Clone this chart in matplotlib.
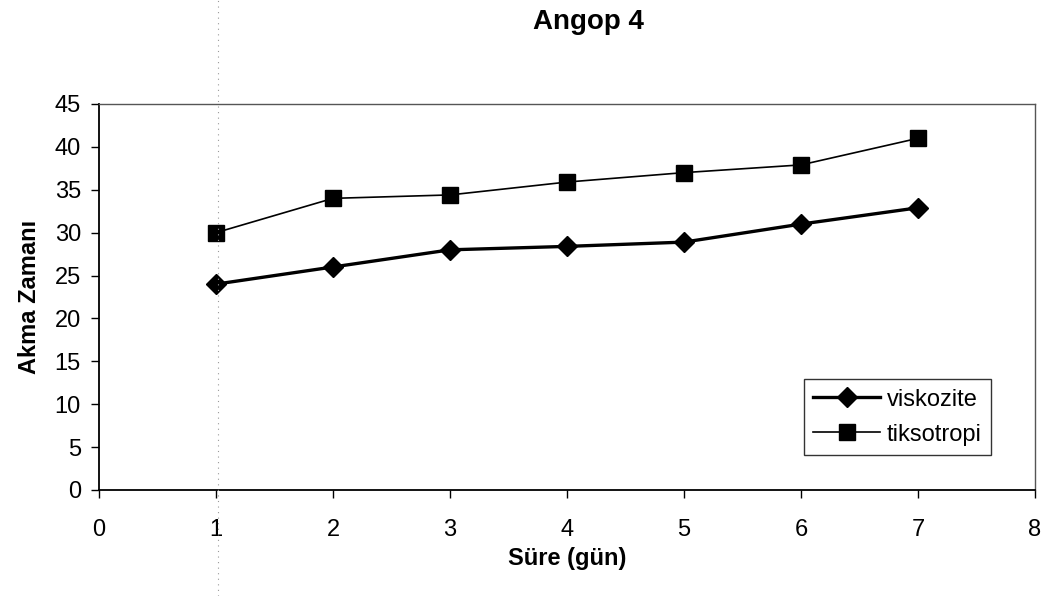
import matplotlib.pyplot as plt
from matplotlib.lines import Line2D

plt.rcParams['font.family'] = ['Liberation Sans', 'DejaVu Sans']

# flow time measurements over days
days = [1, 2, 3, 4, 5, 6, 7]
viskozite = [24, 26, 28, 28.4, 28.9, 31, 32.9]
tiksotropi = [30, 34, 34.4, 35.9, 37, 37.9, 41]

x_ticks = [0, 1, 2, 3, 4, 5, 6, 7, 8]
y_ticks = [0, 5, 10, 15, 20, 25, 30, 35, 40, 45]

fig = plt.figure(figsize=(10.5, 5.96), dpi=100)
ax = fig.add_axes([99 / 1050, 1 - 490 / 596, 936 / 1050, 386 / 596])

ax.plot(days, viskozite, color='black', linewidth=2.4, marker='D',
        markersize=10, label='viskozite')
ax.plot(days, tiksotropi, color='black', linewidth=1.2, marker='s',
        markersize=11.5, label='tiksotropi')

ax.set_xlim(0, 8)
ax.set_ylim(0, 45)
ax.set_xticks(x_ticks)
ax.set_yticks(y_ticks)
ax.tick_params(axis='x', direction='out', length=6, width=1, pad=15, labelsize=17)
ax.tick_params(axis='y', direction='out', length=6, width=1, pad=7, labelsize=17)

for side in ['left', 'bottom']:
    ax.spines[side].set_color('black')
    ax.spines[side].set_linewidth(1.3)
for side in ['top', 'right']:
    ax.spines[side].set_color('#555555')
    ax.spines[side].set_linewidth(1.0)

ax.set_xlabel('Süre (gün)', fontsize=17, fontweight='bold', labelpad=4)
ax.set_ylabel('Akma Zamanı', fontsize=17, fontweight='bold', labelpad=10)
fig.text(588 / 1050, 1 - 22 / 596, 'Angop 4', fontsize=20, fontweight='bold',
         ha='center', va='center')

leg = ax.legend(loc='lower right', bbox_to_anchor=(0.953, 0.0907),
                borderaxespad=0, fontsize=17, frameon=True, fancybox=False,
                handlelength=2.8, handletextpad=0.3, labelspacing=0.55,
                borderpad=0.4)
leg.get_frame().set_edgecolor('black')
leg.get_frame().set_linewidth(1.0)

# faint dotted fold line running down the page
fig.add_artist(Line2D([218 / 1050, 218 / 1050], [0, 1], transform=fig.transFigure,
                      color='#999999', linewidth=0.8, linestyle=(0, (1, 4))))

fig.savefig('out.png', dpi=100)
